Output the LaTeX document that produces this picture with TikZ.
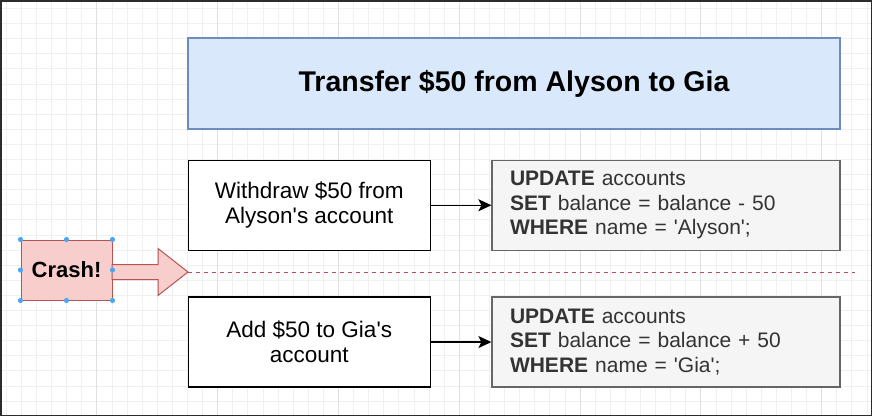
\documentclass[tikz,border=0pt]{standalone}
\usepackage{fontspec}
\setmainfont{Liberation Sans}
\usepackage{tikz}
\usetikzlibrary{arrows.meta,positioning,calc}
\definecolor{titlefill}{HTML}{DAE8FC}
\definecolor{titleline}{HTML}{6C8EBF}
\definecolor{sqlfill}{HTML}{F5F5F5}
\definecolor{sqlline}{HTML}{666666}
\definecolor{sqltext}{HTML}{333333}
\definecolor{crashfill}{HTML}{F8CECC}
\definecolor{crashline}{HTML}{B85450}
\definecolor{handleblue}{HTML}{4DA6F2}
\definecolor{framegray}{HTML}{2B2B2B}
\begin{document}
\begin{tikzpicture}[
    x=1pt,y=-1pt,
    gridline/.style={draw=black!6,line width=0.6pt},
    gridmajor/.style={draw=black!12,line width=0.8pt},
    titlebox/.style={draw=titleline,fill=titlefill,line width=1.2pt,
                minimum width=652pt,minimum height=91pt,
                font=\fontsize{28.5}{33}\selectfont\bfseries},
    box/.style={draw,fill=white,line width=1.3pt,minimum width=242pt,
                minimum height=90pt,align=center,
                font=\fontsize{22.5}{25}\selectfont},
    sqlbox/.style={draw=sqlline,fill=sqlfill,line width=1.2pt,text=sqltext,
                minimum height=90pt,text width=312pt,inner xsep=18pt,
                align=left,font=\fontsize{21}{24.5}\selectfont},
    crashbox/.style={draw=crashline,fill=crashfill,line width=1pt,
                minimum width=91pt,minimum height=60pt,
                font=\fontsize{22}{26}\selectfont\bfseries},
    link/.style={line width=1.4pt,-{Stealth[length=13pt,width=12pt,inset=3pt]}},
    blockarrow/.style={draw=crashline,fill=crashfill,line width=1pt,line join=miter},
    cut/.style={draw=crashline,line width=1pt,dash pattern=on 4pt off 4pt}
  ]
    \useasboundingbox (0,0) rectangle (872,416);
    \fill[white] (0,0) rectangle (872,416);
    \foreach \gx in {6.1,21.2,...,870} \draw[gridline] (\gx,1) -- (\gx,415);
    \foreach \gy in {8.3,23.4,...,414} \draw[gridline] (1,\gy) -- (871,\gy);
    \foreach \gx in {96.7,217.5,...,870} \draw[gridmajor] (\gx,1) -- (\gx,415);
    \draw[framegray,line width=1.5pt] (0.75,0.75) rectangle (871.25,415.25);

    \node[titlebox] (title) at (514,83.5) {Transfer \$50 from Alyson to Gia};
    \node[box] (withdraw) at (309.25,205.25)
          {Withdraw \$50 from\\Alyson\textquotesingle s account};
    \node[sqlbox,right=60.5pt of withdraw] (sqlout)
          {\textbf{UPDATE} accounts\\\textbf{SET} balance = balance - 50\\
           \textbf{WHERE} name = \textquotesingle Alyson\textquotesingle;};
    \node[box,below=45.5pt of withdraw] (deposit)
          {Add \$50 to Gia\textquotesingle s\\account};
    \node[sqlbox,right=60.5pt of deposit] (sqlin)
          {\textbf{UPDATE} accounts\\\textbf{SET} balance = balance + 50\\
           \textbf{WHERE} name = \textquotesingle Gia\textquotesingle;};
    \draw[link] (withdraw) -- (sqlout);
    \draw[link] (deposit) -- (sqlin);

    \node[crashbox] (crash) at (66.5,270) {Crash!};
    \coordinate (tip) at (188,272);
    \coordinate (cutend) at (855,272);
    \draw[blockarrow] ($(tip)+(-76,-7.5)$) -- ($(tip)+(-30,-7.5)$)
          -- ($(tip)+(-30,-23.5)$) -- (tip) -- ($(tip)+(-30,23.5)$)
          -- ($(tip)+(-30,7.5)$) -- ($(tip)+(-76,7.5)$) -- cycle;
    \draw[cut] (tip) -- (cutend);
    \foreach \a in {north west,north,north east,east,south east,south,south west,west}
      \fill[handleblue] (crash.\a) circle (2.6pt);
  \end{tikzpicture}
\end{document}
